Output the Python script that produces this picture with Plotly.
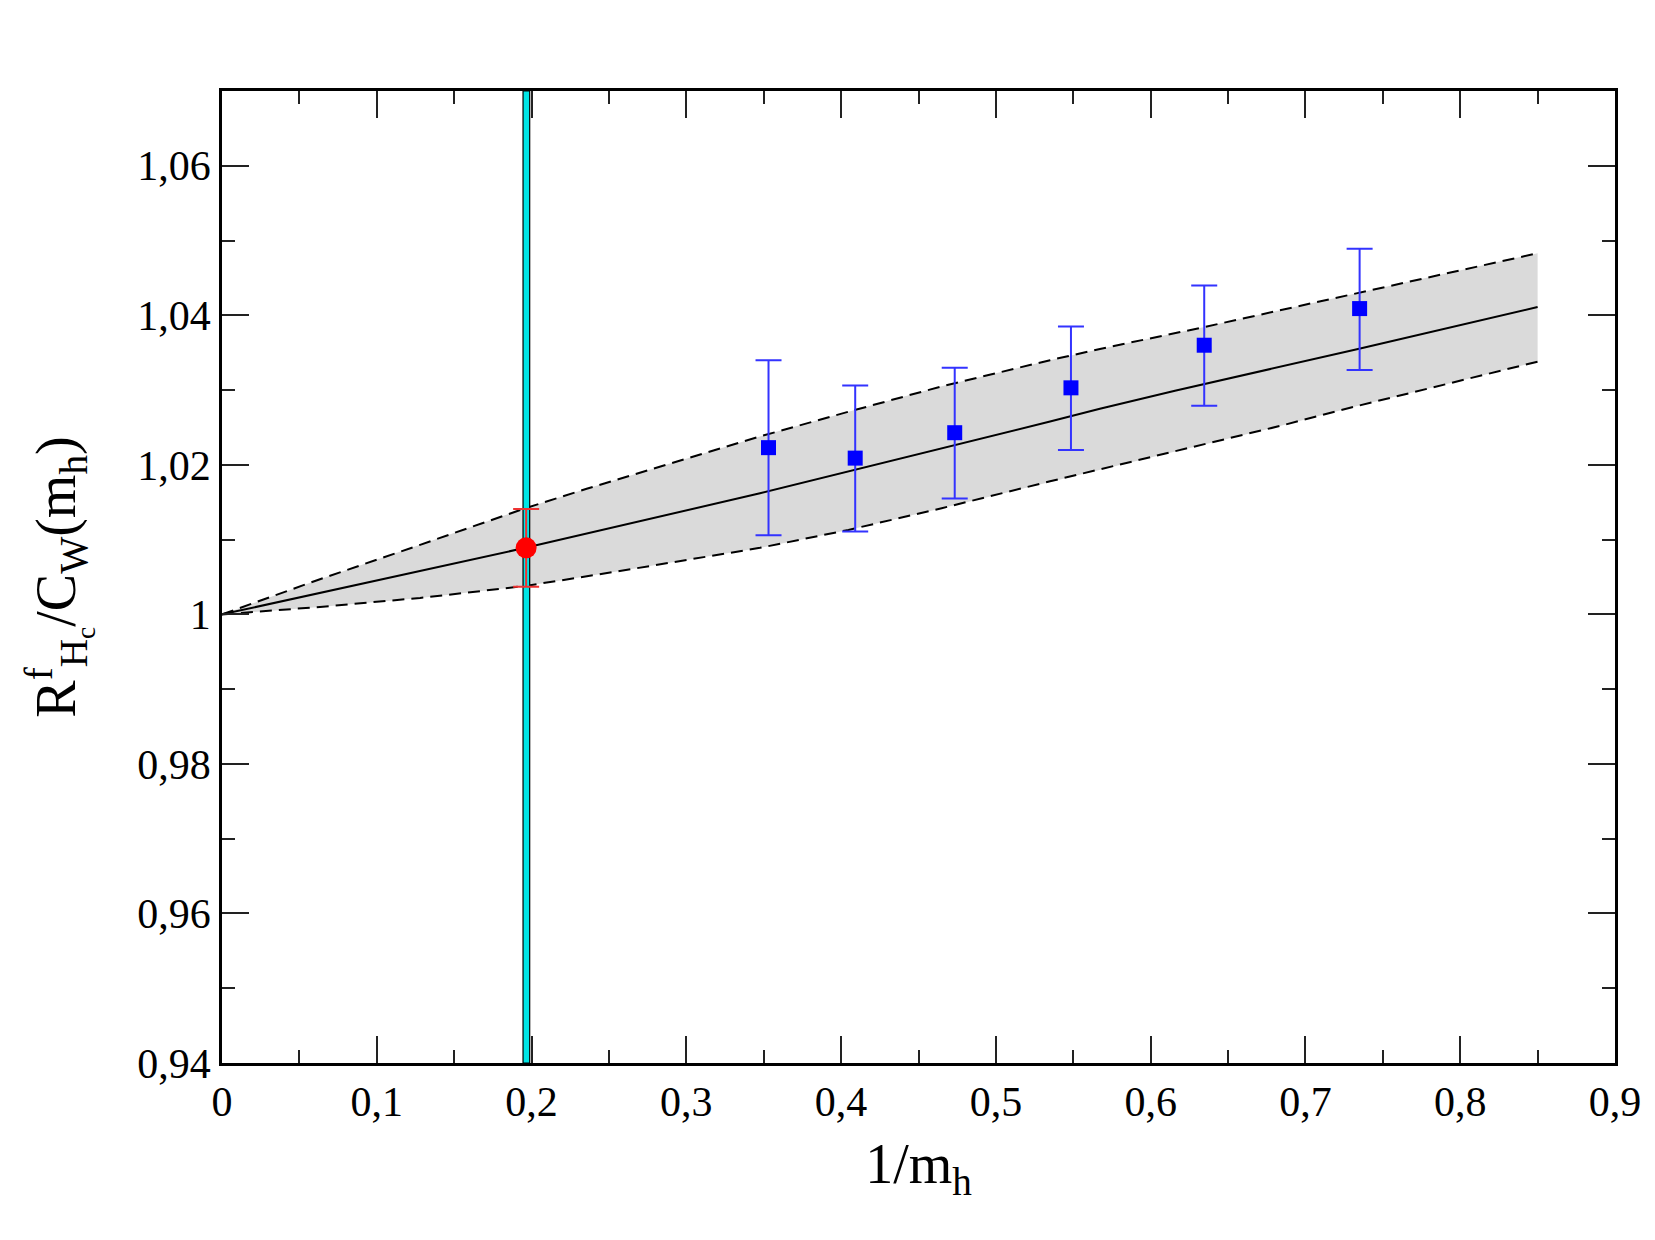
import plotly.graph_objects as go

# Lattice data points (blue squares)
x_pts = [0.3531, 0.4091, 0.4734, 0.5485, 0.6346, 0.7350]
y_pts = [1.0223, 1.0209, 1.0243, 1.0303, 1.0360, 1.0409]
y_hi = [1.0340, 1.0306, 1.0330, 1.0385, 1.0440, 1.0489]
y_lo = [1.0106, 1.0111, 1.0155, 1.0220, 1.0279, 1.0327]

# Extrapolated physical point (red)
x_phys = [0.1965]
y_phys = [1.0089]
y_phys_hi = [1.0141]
y_phys_lo = [1.0037]

# Fit curve and error band
fit_x = [0.0, 0.0633, 0.196, 0.3476, 0.4047, 0.465, 0.535, 0.5672, 0.6157, 0.734, 0.85]
fit_y = [1.0, 1.0029, 1.0089, 1.0162, 1.0191, 1.0222, 1.0258, 1.0275, 1.0299, 1.0355, 1.0411]
up_x = [0.0, 0.0633, 0.128, 0.196, 0.2356, 0.3476, 0.4047, 0.465, 0.535, 0.5672, 0.634, 0.734, 0.85]
up_y = [1.0, 1.0047, 1.0093, 1.0142, 1.0168, 1.0238, 1.0271, 1.0305, 1.0340, 1.0355, 1.0384, 1.0430, 1.0483]
lo_x = [0.0, 0.0633, 0.128, 0.196, 0.257, 0.3476, 0.4047, 0.465, 0.535, 0.6157, 0.6835, 0.734, 0.85]
lo_y = [1.0, 1.0010, 1.0022, 1.0038, 1.0058, 1.0089, 1.0113, 1.0142, 1.0178, 1.0218, 1.0252, 1.0279, 1.0338]

# Vertical band (physical mass)
band_x = [0.1945, 0.1988]

x_range = [0, 0.9]
y_range = [0.94, 1.07]
x_ticks = [0, 0.1, 0.2, 0.3, 0.4, 0.5, 0.6, 0.7, 0.8, 0.9]
x_ticktext = ["0", "0,1", "0,2", "0,3", "0,4", "0,5", "0,6", "0,7", "0,8", "0,9"]
y_ticks = [0.94, 0.96, 0.98, 1.0, 1.02, 1.04, 1.06]
y_ticktext = ["0,94", "0,96", "0,98", "1", "1,02", "1,04", "1,06"]

fig = go.Figure()

# grey band polygon
fig.add_trace(go.Scatter(
    x=up_x + lo_x[::-1], y=up_y + lo_y[::-1],
    fill="toself", fillcolor="#dadada", line=dict(width=0),
    mode="lines", hoverinfo="skip", showlegend=False))

fig.add_trace(go.Scatter(x=up_x, y=up_y, mode="lines",
                         line=dict(color="black", width=2, dash="12px,7px"),
                         showlegend=False))
fig.add_trace(go.Scatter(x=lo_x, y=lo_y, mode="lines",
                         line=dict(color="black", width=2, dash="12px,7px"),
                         showlegend=False))
fig.add_trace(go.Scatter(x=fit_x, y=fit_y, mode="lines",
                         line=dict(color="black", width=2),
                         showlegend=False))

# cyan vertical band (drawn above fit, below red point)
fig.add_trace(go.Scatter(
    x=[band_x[0], band_x[1], band_x[1], band_x[0], band_x[0]],
    y=[y_range[0], y_range[0], y_range[1], y_range[1], y_range[0]],
    mode="lines", fill="toself", fillcolor="#00e5e5",
    line=dict(color="black", width=1.2), hoverinfo="skip", showlegend=False))

fig.add_trace(go.Scatter(
    x=x_pts, y=y_pts, mode="markers",
    marker=dict(symbol="square", size=15, color="#0000ff"),
    error_y=dict(type="data", symmetric=False,
                 array=[h - y for h, y in zip(y_hi, y_pts)],
                 arrayminus=[y - l for l, y in zip(y_lo, y_pts)],
                 color="#3333ff", thickness=2, width=13),
    showlegend=False))

fig.add_trace(go.Scatter(
    x=x_phys, y=y_phys, mode="markers",
    marker=dict(symbol="circle", size=21, color="#ff0000"),
    error_y=dict(type="data", symmetric=False,
                 array=[h - y for h, y in zip(y_phys_hi, y_phys)],
                 arrayminus=[y - l for l, y in zip(y_phys_lo, y_phys)],
                 color="#ee3333", thickness=2, width=13),
    showlegend=False))

axis_common = dict(showgrid=False, zeroline=False, showline=True, linecolor="black",
                   linewidth=2.5, mirror="ticks", ticks="inside", tickcolor="#222",
                   tickwidth=2, ticklen=27, tickfont=dict(size=42, color="black"))

fig.update_layout(
    width=1655, height=1240,
    paper_bgcolor="white", plot_bgcolor="white",
    font=dict(family="Liberation Serif", color="black"),
    margin=dict(l=222, r=40, t=91, b=177),
    xaxis=dict(range=x_range, tickvals=x_ticks, ticktext=x_ticktext,
               minor=dict(ticks="inside", ticklen=13, tickwidth=2, tickcolor="#222", dtick=0.05),
               title=dict(text="1/m<sub>h</sub>", font=dict(size=56), standoff=20),
               **axis_common),
    yaxis=dict(range=y_range, tickvals=y_ticks, ticktext=y_ticktext,
               minor=dict(ticks="inside", ticklen=13, tickwidth=2, tickcolor="#222", dtick=0.01),
               title=dict(text="R<sup>f</sup><sub>H<sub>c</sub></sub>/C<sub>W</sub>(m<sub>h</sub>)",
                          font=dict(size=56), standoff=44),
               **axis_common),
)

fig.write_html("out.html")
